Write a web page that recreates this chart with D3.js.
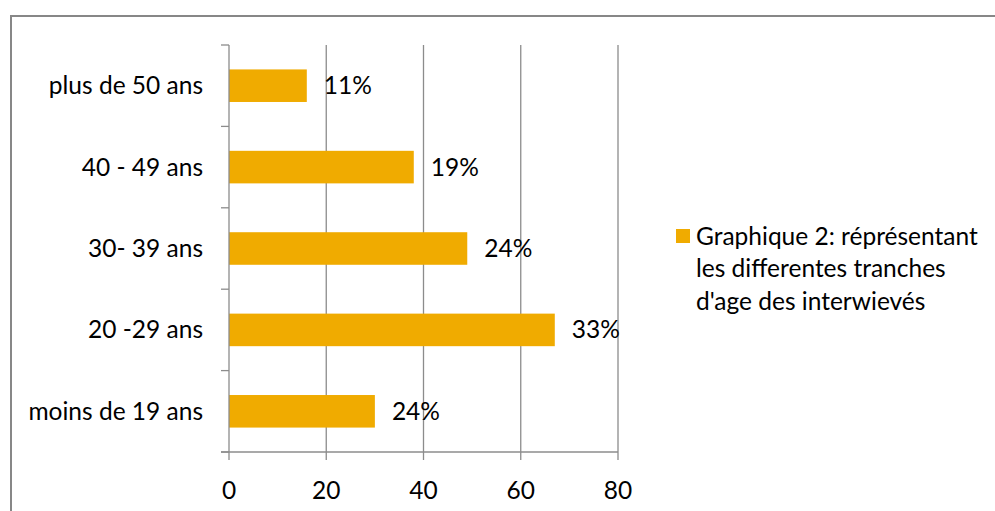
<!DOCTYPE html>
<html><head><meta charset="utf-8">
<script src="https://cdn.jsdelivr.net/npm/d3@7"></script>
<style>body{margin:0;background:#fff;} svg{display:block;font-family:Lato,"Open Sans",sans-serif;}</style>
</head><body>
<svg id="c" width="995" height="511"></svg>
<script>
const categories = ["plus de 50 ans","40 - 49 ans","30- 39 ans","20 -29 ans","moins de 19 ans"];
const values = [16, 38, 49, 67, 30];
const labels = ["11%","19%","24%","33%","24%"];
const xTicks = [0,20,40,60,80];
const legendLines = ["Graphique 2: réprésentant","les differentes tranches","d'age des interwievés"];

(function(){
const svg = d3.select("#c");
const gridColor = "#8c8c8c";
const barColor = "#F0AB00";
const fs = 24.5;

// frame
svg.append("path").attr("d","M11,511 V16 H995").attr("fill","none").attr("stroke","#878787").attr("stroke-width",2);

const pL = 229, pR = 618, pT = 45, pB = 452;
const x = d3.scaleLinear().domain([0,80]).range([pL,pR]);
const y = d3.scaleBand().domain(categories).range([pT,pB]).paddingInner(0.6).paddingOuter(0.3);
const yb = d3.scaleBand().domain(categories).range([pT,pB]);

// gridlines
svg.append("g").selectAll("line").data(xTicks.slice(1)).join("line")
  .attr("x1",d=>x(d)).attr("x2",d=>x(d)).attr("y1",pT).attr("y2",pB)
  .attr("stroke",gridColor).attr("stroke-width",1.3);

// bars
svg.append("g").selectAll("rect").data(values).join("rect")
  .attr("x",x(0)).attr("y",(d,i)=>y(categories[i]))
  .attr("width",d=>x(d)-x(0)).attr("height",y.bandwidth())
  .attr("fill",barColor);

// y axis
const yAxis = svg.append("g").attr("transform",`translate(${pL},0)`);
yAxis.append("line").attr("x1",0).attr("x2",0).attr("y1",pT).attr("y2",pB).attr("stroke",gridColor).attr("stroke-width",1.3);
const yEdges = categories.map(c=>yb(c)).concat([pB]);
yAxis.selectAll("line.t").data(yEdges).join("line").attr("class","t")
  .attr("x1",-8).attr("x2",0).attr("y1",d=>d).attr("y2",d=>d).attr("stroke",gridColor).attr("stroke-width",1.3);
yAxis.selectAll("text").data(categories).join("text")
  .attr("x",-26).attr("y",d=>yb(d)+yb.bandwidth()/2).attr("dy","0.35em")
  .attr("text-anchor","end").attr("font-size",fs).attr("fill","#000").text(d=>d);

// x axis
const xAxis = svg.append("g").attr("transform",`translate(0,${pB})`);
xAxis.append("line").attr("x1",pL-8).attr("x2",pR).attr("y1",0).attr("y2",0).attr("stroke",gridColor).attr("stroke-width",1.3);
xAxis.selectAll("line.t").data(xTicks).join("line").attr("class","t")
  .attr("x1",d=>x(d)).attr("x2",d=>x(d)).attr("y1",0).attr("y2",8).attr("stroke",gridColor).attr("stroke-width",1.3);
xAxis.selectAll("text").data(xTicks).join("text")
  .attr("x",d=>x(d)).attr("y",38).attr("dy","0.35em")
  .attr("text-anchor","middle").attr("font-size",fs).attr("fill","#000").text(d=>d);

// data labels
svg.append("g").selectAll("text").data(values).join("text")
  .attr("x",d=>x(d)+17).attr("y",(d,i)=>yb(categories[i])+yb.bandwidth()/2).attr("dy","0.35em")
  .attr("font-size",fs).attr("fill","#000").text((d,i)=>labels[i]);

// legend
const lg = svg.append("g");
lg.append("rect").attr("x",676).attr("y",229).attr("width",14).attr("height",14).attr("fill",barColor);
lg.selectAll("text").data(legendLines).join("text")
  .attr("x",696).attr("y",(d,i)=>245+i*32.3)
  .attr("font-size",fs).attr("fill","#000").text(d=>d);
})();
</script>
</body></html>
